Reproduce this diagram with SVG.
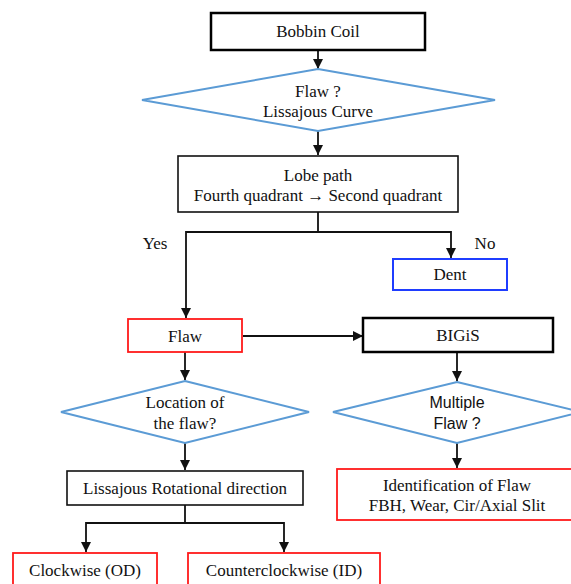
<svg xmlns="http://www.w3.org/2000/svg" width="571" height="584" viewBox="0 0 571 584">
<defs>
<style>
.t{font-family:"Liberation Serif","Times New Roman",serif;font-size:17px;fill:#111;text-anchor:middle}
.s{font-family:"Liberation Sans",Arial,sans-serif;font-size:16px;fill:#111;text-anchor:middle}
.bk{fill:#fff;stroke:#000;stroke-width:2.5}
.thin{fill:#fff;stroke:#111;stroke-width:1.6}
.red{fill:#fff;stroke:#ff1a1a;stroke-width:1.8}
.blue{fill:#fff;stroke:#1f3dff;stroke-width:2}
.dia{fill:#fff;stroke:#5b9bd5;stroke-width:2}
.ln{fill:none;stroke:#111;stroke-width:1.8}
</style>
<marker id="ah" markerWidth="10" markerHeight="10" refX="10" refY="5" orient="auto" markerUnits="userSpaceOnUse">
<path d="M0,0 L10,5 L0,10 z" fill="#111"/>
</marker>
</defs>
<rect width="571" height="584" fill="#fff"/>
<g id="connectors">
<line class="ln" x1="318" y1="50" x2="318" y2="69" marker-end="url(#ah)"/>
<line class="ln" x1="318" y1="131" x2="318" y2="155" marker-end="url(#ah)"/>
<polyline class="ln" points="318,212 318,232 186,232 186,318" marker-end="url(#ah)"/>
<polyline class="ln" points="318,232 451,232 451,258" marker-end="url(#ah)"/>
<line class="ln" x1="243" y1="336" x2="363" y2="336" marker-end="url(#ah)"/>
<line class="ln" x1="185" y1="352" x2="185" y2="380" marker-end="url(#ah)"/>
<line class="ln" x1="457" y1="352" x2="457" y2="381" marker-end="url(#ah)"/>
<line class="ln" x1="185" y1="443" x2="185" y2="470" marker-end="url(#ah)"/>
<line class="ln" x1="457" y1="443" x2="457" y2="468" marker-end="url(#ah)"/>
<polyline class="ln" points="185,505 185,523 86,523 86,552" marker-end="url(#ah)"/>
<polyline class="ln" points="185,523 284,523 284,552" marker-end="url(#ah)"/>
<text class="t" x="155" y="249">Yes</text>
<text class="t" x="485" y="249">No</text>
</g>
<g id="bobbin">
<rect class="bk" x="211" y="13" width="214" height="37"/>
<text class="t" x="318" y="37">Bobbin Coil</text>
</g>
<g id="flawq">
<polygon class="dia" points="318,69 495,100 318,131 142,100"/>
<text class="t" x="318" y="97">Flaw ?</text>
<text class="t" x="318" y="117">Lissajous Curve</text>
</g>
<g id="lobe">
<rect class="thin" x="178" y="156" width="280" height="56"/>
<text class="t" x="318" y="181">Lobe path</text>
<text class="t" x="318" y="201">Fourth quadrant → Second quadrant</text>
</g>
<g id="dent">
<rect class="blue" x="393" y="259" width="114" height="31"/>
<text class="t" x="450" y="280">Dent</text>
</g>
<g id="flaw">
<rect class="red" x="128" y="319" width="114" height="33"/>
<text class="t" x="185" y="342">Flaw</text>
</g>
<g id="bigis">
<rect class="bk" x="363" y="318" width="190" height="34"/>
<text class="t" x="458" y="341">BIGiS</text>
</g>
<g id="location">
<polygon class="dia" points="185,381 309,412 185,443 61,412"/>
<text class="t" x="185" y="408">Location of</text>
<text class="t" x="185" y="429">the flaw?</text>
</g>
<g id="multiple">
<polygon class="dia" points="457,382 581,412 457,443 333,412"/>
<text class="s" x="457" y="408">Multiple</text>
<text class="s" x="457" y="429">Flaw ?</text>
</g>
<g id="lissajous">
<rect class="thin" x="67" y="471" width="236" height="34"/>
<text class="t" x="185" y="494">Lissajous Rotational direction</text>
</g>
<g id="identification">
<rect class="red" x="337" y="469" width="245" height="51"/>
<text class="t" x="457" y="491">Identification of Flaw</text>
<text class="t" x="457" y="511">FBH, Wear, Cir/Axial Slit</text>
</g>
<g id="clockwise">
<rect class="red" x="13" y="553" width="144" height="40"/>
<text class="t" x="85" y="576">Clockwise (OD)</text>
</g>
<g id="counterclockwise">
<rect class="red" x="188" y="553" width="192" height="40"/>
<text class="t" x="284" y="576">Counterclockwise (ID)</text>
</g>
</svg>
